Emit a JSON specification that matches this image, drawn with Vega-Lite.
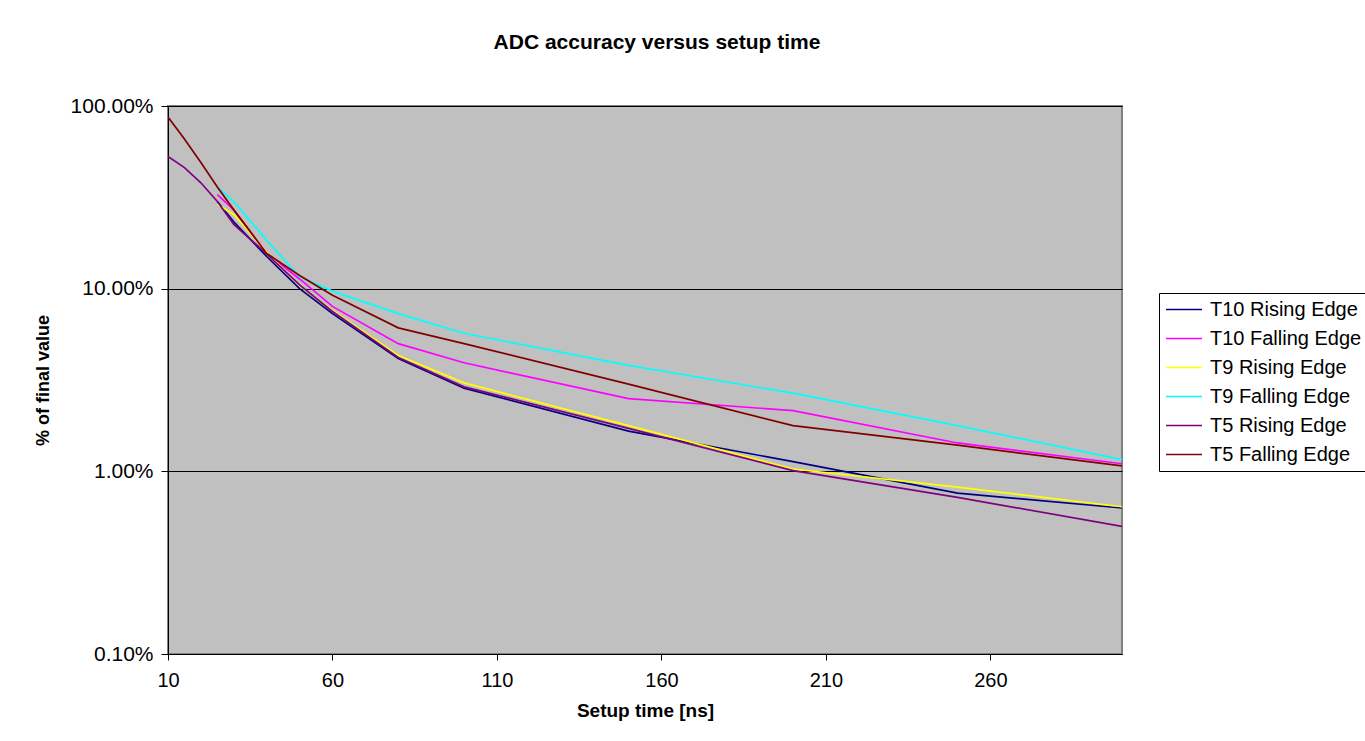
{
  "$schema": "https://vega.github.io/schema/vega-lite/v6.json",
  "width": 954,
  "height": 548,
  "autosize": "none",
  "padding": {"left": 168, "top": 106, "right": 243, "bottom": 87},
  "background": "white",
  "config": {
    "font": "Liberation Sans",
    "view": {"fill": "#C0C0C0", "stroke": "#808080", "strokeWidth": 2}
  },
  "title": {
    "text": "ADC accuracy versus setup time",
    "fontSize": 21,
    "fontWeight": "bold",
    "font": "Liberation Sans",
    "color": "black",
    "offset": 42,
    "anchor": "middle",
    "dx": 12
  },
  "data": {
    "values": [
      {"s": "T10 Rising Edge", "t": 25, "v": 0.30},
      {"s": "T10 Rising Edge", "t": 30, "v": 0.232},
      {"s": "T10 Rising Edge", "t": 40, "v": 0.150},
      {"s": "T10 Rising Edge", "t": 50, "v": 0.100},
      {"s": "T10 Rising Edge", "t": 60, "v": 0.073},
      {"s": "T10 Rising Edge", "t": 80, "v": 0.0415},
      {"s": "T10 Rising Edge", "t": 100, "v": 0.0285},
      {"s": "T10 Rising Edge", "t": 150, "v": 0.0166},
      {"s": "T10 Rising Edge", "t": 200, "v": 0.0113},
      {"s": "T10 Rising Edge", "t": 250, "v": 0.0076},
      {"s": "T10 Rising Edge", "t": 300, "v": 0.0063},

      {"s": "T10 Falling Edge", "t": 25, "v": 0.327},
      {"s": "T10 Falling Edge", "t": 30, "v": 0.27},
      {"s": "T10 Falling Edge", "t": 40, "v": 0.156},
      {"s": "T10 Falling Edge", "t": 50, "v": 0.113},
      {"s": "T10 Falling Edge", "t": 60, "v": 0.080},
      {"s": "T10 Falling Edge", "t": 80, "v": 0.050},
      {"s": "T10 Falling Edge", "t": 100, "v": 0.0393},
      {"s": "T10 Falling Edge", "t": 150, "v": 0.025},
      {"s": "T10 Falling Edge", "t": 200, "v": 0.0215},
      {"s": "T10 Falling Edge", "t": 250, "v": 0.0143},
      {"s": "T10 Falling Edge", "t": 300, "v": 0.011},

      {"s": "T9 Rising Edge", "t": 25, "v": 0.29},
      {"s": "T9 Rising Edge", "t": 30, "v": 0.255},
      {"s": "T9 Rising Edge", "t": 40, "v": 0.158},
      {"s": "T9 Rising Edge", "t": 50, "v": 0.104},
      {"s": "T9 Rising Edge", "t": 60, "v": 0.076},
      {"s": "T9 Rising Edge", "t": 80, "v": 0.0431},
      {"s": "T9 Rising Edge", "t": 100, "v": 0.0305},
      {"s": "T9 Rising Edge", "t": 150, "v": 0.0178},
      {"s": "T9 Rising Edge", "t": 200, "v": 0.0103},
      {"s": "T9 Rising Edge", "t": 250, "v": 0.0082},
      {"s": "T9 Rising Edge", "t": 300, "v": 0.0064},

      {"s": "T9 Falling Edge", "t": 25, "v": 0.36},
      {"s": "T9 Falling Edge", "t": 30, "v": 0.30},
      {"s": "T9 Falling Edge", "t": 40, "v": 0.184},
      {"s": "T9 Falling Edge", "t": 50, "v": 0.116},
      {"s": "T9 Falling Edge", "t": 60, "v": 0.097},
      {"s": "T9 Falling Edge", "t": 80, "v": 0.073},
      {"s": "T9 Falling Edge", "t": 100, "v": 0.057},
      {"s": "T9 Falling Edge", "t": 150, "v": 0.038},
      {"s": "T9 Falling Edge", "t": 200, "v": 0.0268},
      {"s": "T9 Falling Edge", "t": 250, "v": 0.0178},
      {"s": "T9 Falling Edge", "t": 300, "v": 0.0116},

      {"s": "T5 Rising Edge", "t": 10, "v": 0.53},
      {"s": "T5 Rising Edge", "t": 15, "v": 0.46},
      {"s": "T5 Rising Edge", "t": 20, "v": 0.38},
      {"s": "T5 Rising Edge", "t": 25, "v": 0.30},
      {"s": "T5 Rising Edge", "t": 30, "v": 0.225},
      {"s": "T5 Rising Edge", "t": 40, "v": 0.155},
      {"s": "T5 Rising Edge", "t": 50, "v": 0.105},
      {"s": "T5 Rising Edge", "t": 60, "v": 0.075},
      {"s": "T5 Rising Edge", "t": 80, "v": 0.042},
      {"s": "T5 Rising Edge", "t": 100, "v": 0.029},
      {"s": "T5 Rising Edge", "t": 150, "v": 0.0172},
      {"s": "T5 Rising Edge", "t": 200, "v": 0.0101},
      {"s": "T5 Rising Edge", "t": 250, "v": 0.0072},
      {"s": "T5 Rising Edge", "t": 300, "v": 0.0050},

      {"s": "T5 Falling Edge", "t": 10, "v": 0.87},
      {"s": "T5 Falling Edge", "t": 15, "v": 0.66},
      {"s": "T5 Falling Edge", "t": 20, "v": 0.49},
      {"s": "T5 Falling Edge", "t": 25, "v": 0.36},
      {"s": "T5 Falling Edge", "t": 30, "v": 0.27},
      {"s": "T5 Falling Edge", "t": 40, "v": 0.156},
      {"s": "T5 Falling Edge", "t": 50, "v": 0.118},
      {"s": "T5 Falling Edge", "t": 60, "v": 0.092},
      {"s": "T5 Falling Edge", "t": 80, "v": 0.061},
      {"s": "T5 Falling Edge", "t": 100, "v": 0.050},
      {"s": "T5 Falling Edge", "t": 150, "v": 0.030},
      {"s": "T5 Falling Edge", "t": 200, "v": 0.0178},
      {"s": "T5 Falling Edge", "t": 250, "v": 0.0139},
      {"s": "T5 Falling Edge", "t": 300, "v": 0.0107}
    ]
  },
  "mark": {"type": "line", "strokeWidth": 1.7, "clip": true},
  "encoding": {
    "x": {
      "field": "t",
      "type": "quantitative",
      "scale": {"domain": [10, 300], "nice": false, "zero": false},
      "axis": {
        "values": [10, 60, 110, 160, 210, 260],
        "title": "Setup time [ns]",
        "grid": false,
        "domainColor": "black",
        "tickColor": "black",
        "tickSize": 6,
        "labelFlush": false,
        "labelFontSize": 20,
        "labelColor": "black",
        "labelPadding": 10,
        "titleFontSize": 19,
        "titleFontWeight": "bold",
        "titleColor": "black",
        "titlePadding": 11
      }
    },
    "y": {
      "field": "v",
      "type": "quantitative",
      "scale": {"type": "log", "domain": [0.001, 1], "nice": false},
      "axis": {
        "values": [0.001, 0.01, 0.1, 1],
        "format": ".2%",
        "title": "% of final value",
        "grid": true,
        "gridColor": "black",
        "gridOpacity": 1,
        "gridWidth": 1,
        "domainColor": "black",
        "tickColor": "black",
        "tickSize": 7,
        "labelFlush": false,
        "labelFontSize": 21,
        "labelColor": "black",
        "labelPadding": 8,
        "titleFontSize": 18,
        "titleFontWeight": "bold",
        "titleColor": "black",
        "titlePadding": 18
      }
    },
    "color": {
      "field": "s",
      "type": "nominal",
      "sort": ["T10 Rising Edge", "T10 Falling Edge", "T9 Rising Edge", "T9 Falling Edge", "T5 Rising Edge", "T5 Falling Edge"],
      "scale": {
        "domain": ["T10 Rising Edge", "T10 Falling Edge", "T9 Rising Edge", "T9 Falling Edge", "T5 Rising Edge", "T5 Falling Edge"],
        "range": ["#000080", "#FF00FF", "#FFFF00", "#00FFFF", "#800080", "#800000"]
      },
      "legend": {
        "orient": "none",
        "legendX": 991,
        "legendY": 187,
        "direction": "vertical",
        "title": null,
        "strokeColor": "black",
        "fillColor": "white",
        "padding": 6,
        "symbolType": "stroke",
        "symbolSize": 1296,
        "symbolStrokeWidth": 1.7,
        "labelFontSize": 20,
        "labelColor": "black",
        "labelOffset": 7,
        "labelLimit": 300,
        "clipHeight": 21,
        "rowPadding": 8
      }
    }
  }
}
